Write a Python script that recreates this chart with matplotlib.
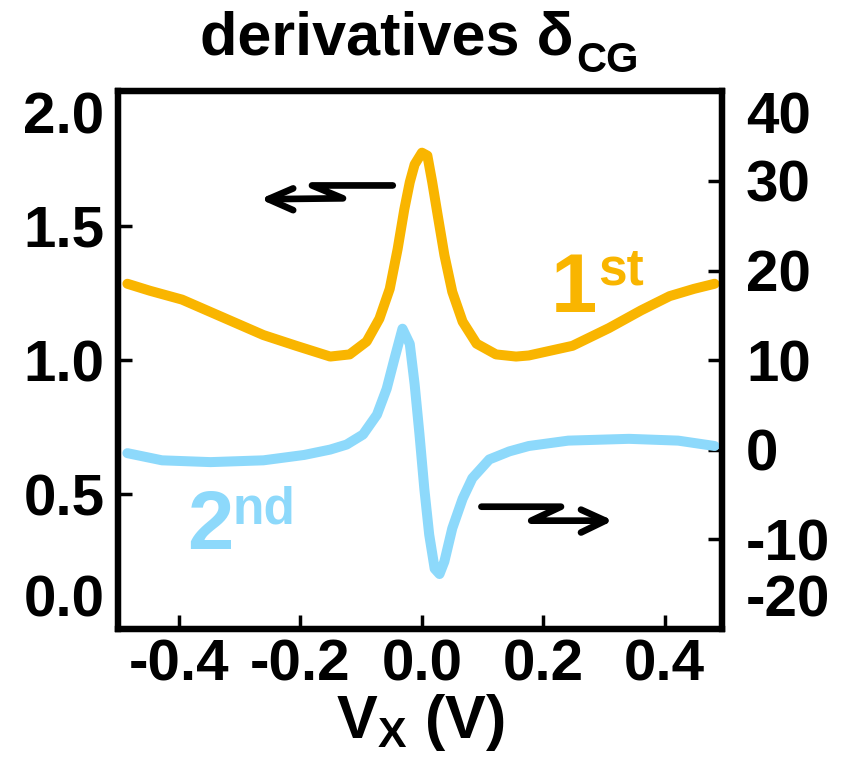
import matplotlib
matplotlib.use("Agg")
import matplotlib.pyplot as plt

# colours and font
orange = "#F9B500"
sky = "#8DD9FB"
plt.rcParams["font.family"] = ["Liberation Sans", "DejaVu Sans"]
plt.rcParams["font.weight"] = "bold"
plt.rcParams["mathtext.fontset"] = "custom"
plt.rcParams["mathtext.rm"] = "Liberation Sans:bold"
plt.rcParams["mathtext.it"] = "Liberation Sans:bold"
plt.rcParams["mathtext.bf"] = "Liberation Sans:bold"

# first derivative (left axis)
x_first = [-0.485, -0.448, -0.395, -0.328, -0.261, -0.207, -0.151, -0.119, -0.091,
           -0.070, -0.053, -0.040, -0.029, -0.020, -0.012, 0.0, 0.009, 0.017, 0.026,
           0.037, 0.050, 0.067, 0.090, 0.122, 0.155, 0.176, 0.248, 0.308, 0.361,
           0.408, 0.448, 0.482]
y_first = [1.284, 1.258, 1.225, 1.159, 1.093, 1.053, 1.013, 1.021, 1.069,
           1.154, 1.265, 1.413, 1.561, 1.662, 1.728, 1.772, 1.761, 1.662, 1.539,
           1.391, 1.254, 1.143, 1.061, 1.021, 1.013, 1.017, 1.053, 1.119, 1.185,
           1.238, 1.265, 1.284]

# second derivative (right axis)
x_second = [-0.485, -0.428, -0.348, -0.261, -0.194, -0.151, -0.124, -0.097, -0.074,
            -0.058, -0.045, -0.032, -0.020, -0.012, -0.004, 0.004, 0.012, 0.021,
            0.029, 0.037, 0.050, 0.067, 0.083, 0.111, 0.144, 0.176, 0.241, 0.341,
            0.422, 0.482]
y_second = [-0.4, -1.2, -1.4, -1.2, -0.6, 0.0, 0.56, 1.68, 3.9,
            6.8, 10.2, 13.5, 11.8, 7.3, 1.7, -4.4, -9.5, -13.3,
            -13.9, -12.5, -8.8, -5.5, -3.2, -1.1, -0.2, 0.4, 1.0, 1.2,
            1.0, 0.4]

x_ticks = [-0.4, -0.2, 0.0, 0.2, 0.4]
left_ticks = [0.0, 0.5, 1.0, 1.5, 2.0]
right_ticks = [-20, -10, 0, 10, 20, 30, 40]

fig = plt.figure(figsize=(8.51, 7.62), dpi=100)
ax = fig.add_axes([0.139, 0.175, 0.71, 0.705])
ax2 = ax.twinx()

ax.plot(x_first, y_first, color=orange, lw=7.2, solid_capstyle="round", solid_joinstyle="round")
ax2.plot(x_second, y_second, color=sky, lw=7.2, solid_capstyle="round", solid_joinstyle="round")

ax.set_xlim(-0.5, 0.495)
ax.set_ylim(0, 2.0)
ax2.set_ylim(-20, 40)
ax.set_xticks(x_ticks)
ax.set_xticklabels(["-0.4", "-0.2", "0.0", "0.2", "0.4"])
ax.set_yticks(left_ticks)
ax.set_yticklabels(["0.0", "0.5", "1.0", "1.5", "2.0"])
ax2.set_yticks(right_ticks)
ax2.set_yticklabels([str(t) for t in right_ticks])

for a in (ax, ax2):
    for s in a.spines.values():
        s.set_linewidth(4.5)
    a.tick_params(direction="in", length=10, width=2.5, labelsize=42, pad=10)
ax.tick_params(axis="x", pad=7)
ax2.tick_params(axis="y", pad=17)

# end labels sit inside the frame height
ax.get_yticklabels()[0].set_va("bottom")
ax.get_yticklabels()[-1].set_va("top")
ax2.get_yticklabels()[0].set_va("bottom")
ax2.get_yticklabels()[-1].set_va("top")

ax.set_xlabel(r"V$_{\rm X}$ (V)", fontsize=44, fontweight="bold", labelpad=0)

# title with a smaller subscript
t1 = fig.text(0.235, 0.928, "derivatives δ", fontsize=44, fontweight="bold", va="baseline")
fig.canvas.draw()
bb = t1.get_window_extent()
fig.text((bb.x1 + 3) / fig.bbox.width, 0.905, "CG", fontsize=30, fontweight="bold", va="baseline")

# curve labels
ax.text(0.212, 1.18, "1", color=orange, fontsize=60, fontweight="bold")
ax.text(0.291, 1.28, "st", color=orange, fontsize=37, fontweight="bold")
ax.text(-0.387, 0.298, "2", color=sky, fontsize=60, fontweight="bold")
ax.text(-0.312, 0.391, "nd", color=sky, fontsize=37, fontweight="bold")

# zigzag arrows pointing at each curve's axis
arrow_kw = dict(color="black", lw=4.8, solid_capstyle="round", solid_joinstyle="round")
ax.plot([-0.048, -0.181, -0.130, -0.253], [1.650, 1.650, 1.602, 1.599], **arrow_kw)
ax.plot([-0.212, -0.253, -0.212], [1.639, 1.599, 1.558], **arrow_kw)
ax.plot([0.098, 0.229, 0.180, 0.302], [0.454, 0.454, 0.402, 0.402], **arrow_kw)
ax.plot([0.262, 0.302, 0.262], [0.443, 0.402, 0.358], **arrow_kw)

fig.savefig("out.png", dpi=100)
